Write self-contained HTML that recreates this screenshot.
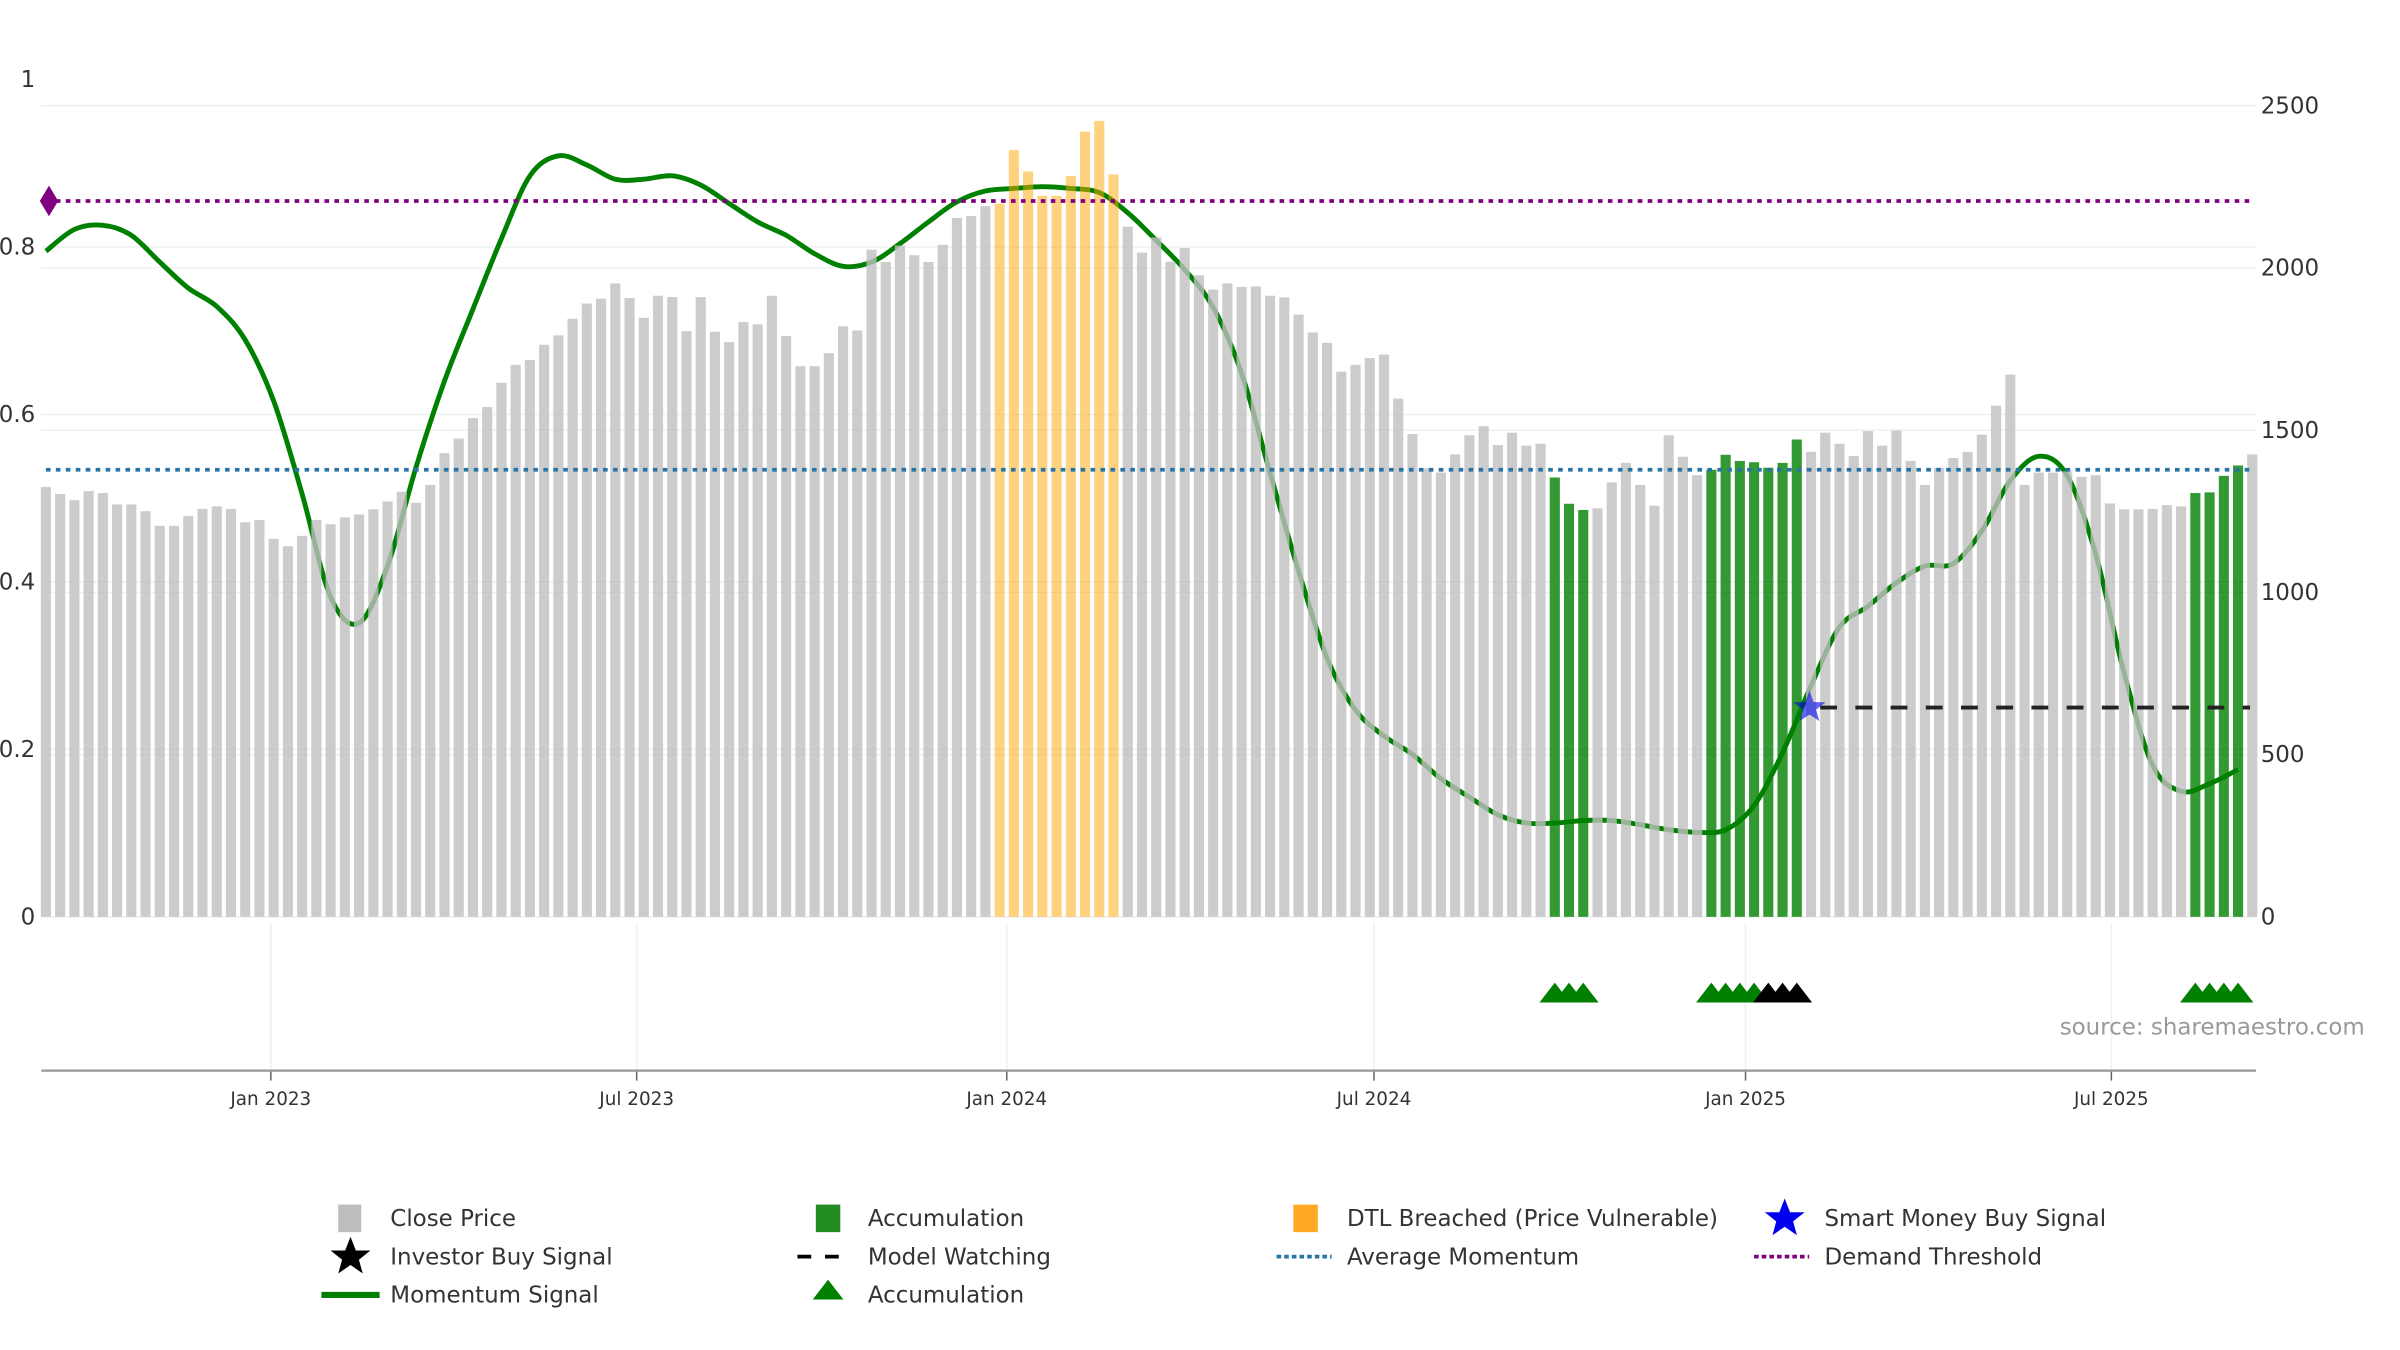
<!DOCTYPE html>
<html><head><meta charset="utf-8">
<style>
html,body{margin:0;padding:0;background:#fff;}
svg{display:block;font-family:"DejaVu Sans","Liberation Sans",sans-serif;}
</style></head>
<body>
<svg id="chart" width="2400" height="1350" viewBox="0 0 1568 882" xmlns="http://www.w3.org/2000/svg">
<g id="grid"></g>
<g id="lineLayer"></g>
<g id="bars"></g>
<g id="refs"></g>
<g id="axes"></g>
<g id="tri"></g>
<text x="1545" y="676" text-anchor="end" font-size="15" fill="#999">source: sharemaestro.com</text>
<g id="legend" font-size="15" fill="#333">
  <g><rect x="221" y="787" width="15" height="18" fill="#bdbdbd"/><text x="255" y="801">Close Price</text></g>
  <g><rect x="533" y="787" width="16" height="18" fill="#228b22"/><text x="567" y="801">Accumulation</text></g>
  <g><rect x="845" y="787" width="16" height="18" fill="#ffa826"/><text x="880" y="801">DTL Breached (Price Vulnerable)</text></g>
  <g><polygon points="1166,783 1169.5,792 1179,792 1171.5,798 1174,807 1166,801.5 1158,807 1160.5,798 1153,792 1162.5,792" fill="#0000ee"/><text x="1192" y="801">Smart Money Buy Signal</text></g>
  <g><polygon points="229,808 232.5,817 242,817 234.5,823 237,832 229,826.5 221,832 223.5,823 216,817 225.5,817" fill="#000"/><text x="255" y="826">Investor Buy Signal</text></g>
  <g><line x1="521" y1="821" x2="557" y2="821" stroke="#000" stroke-width="2.5" stroke-dasharray="9,9"/><text x="567" y="826">Model Watching</text></g>
  <g><line x1="834" y1="821" x2="870" y2="821" stroke="#2874a6" stroke-width="2.5" stroke-dasharray="3,2"/><text x="880" y="826">Average Momentum</text></g>
  <g><line x1="1146" y1="821" x2="1182" y2="821" stroke="#800080" stroke-width="2.5" stroke-dasharray="3,2"/><text x="1192" y="826">Demand Threshold</text></g>
  <g><line x1="210" y1="846" x2="248" y2="846" stroke="#008000" stroke-width="4"/><text x="255" y="851">Momentum Signal</text></g>
  <g><polygon points="541,836 551,849 531,849" fill="#008000"/><text x="567" y="851">Accumulation</text></g>
</g>
</svg>
<script>
const prices = [1325,1303,1284,1312,1306,1271,1271,1250,1205,1205,1235,1257,1265,1257,1216,1223,1165,1142,1174,1223,1210,1231,1240,1256,1280,1310,1276,1331,1429,1474,1537,1571,1646,1701,1716,1763,1792,1843,1890,1905,1952,1907,1846,1914,1910,1805,1910,1803,1771,1833,1826,1914,1790,1697,1697,1737,1820,1807,2056,2018,2069,2039,2018,2071,2154,2160,2190,
2198,2363,2297,2222,2222,2283,2420,2453,2288,
2127,2047,2094,2019,2061,
1977,1933,1952,1941,1943,1914,1909,1856,1801,1769,1680,1701,1722,1733,1597,1488,1382,1369,1425,1484,1512,1454,1492,1452,1458,1354,1273,1254,1259,1339,1399,1331,1267,1484,1418,1361,1378,1424,1405,1401,1384,1399,1471,1433,1492,1458,1420,1497,1452,1499,1405,1331,1384,1414,1433,1486,1575,1671,1331,1369,1369,1373,1356,1361,1274,1256,1256,1257,1269,1265,1306,1308,1359,1391,1425];
const breachedIdx = [67,68,69,70,71,72,73,74,75];
const accumIdx = [106,107,108,117,118,119,120,121,122,123,151,152,153,154];
const accumMarkerIdx = [106,107,108,117,118,119,120,151,152,153,154];
const investorMarkerIdx = [121,122,123];
// momentum sampled every 2 bars
const momentum = [0.795,0.821,0.826,0.814,0.782,0.751,0.729,0.689,0.616,0.505,0.382,0.351,0.419,0.537,0.640,0.726,0.810,0.885,0.909,0.898,0.881,0.881,0.885,0.874,0.852,0.830,0.814,0.792,0.777,0.782,0.804,0.830,0.854,0.867,0.870,0.872,0.870,0.865,0.841,0.808,0.773,0.728,0.649,0.530,0.413,0.309,0.247,0.216,0.194,0.165,0.143,0.122,0.112,0.112,0.115,0.115,0.110,0.104,0.101,0.104,0.133,0.196,0.276,0.346,0.371,0.399,0.419,0.422,0.461,0.521,0.550,0.527,0.433,0.291,0.181,0.150,0.159,0.176];
const avgMomentum = 0.534;
const demandThreshold = 0.855;
const smartMoneyIdx = 124;
const modelWatching = 0.25;
const leftTicks = [0,0.2,0.4,0.6,0.8,1];
const rightTicks = [0,500,1000,1500,2000,2500];
const dateLabels = ["Jan 2023","Jul 2023","Jan 2024","Jul 2024","Jan 2025","Jul 2025"];
const dateIdx = [15.8,41.5,67.5,93.3,119.4,145.1];

const NS="http://www.w3.org/2000/svg";
const X0=30, PITCH=9.3, BASE=599;
const xb = i => X0 + i*PITCH;
const yL = v => BASE - v*547;
const yR = v => BASE - v*0.212;
function mk(tag, attrs, parent){const e=document.createElementNS(NS,tag);for(const k in attrs)e.setAttribute(k,attrs[k]);parent.appendChild(e);return e;}
const grid=document.getElementById('grid'), bars=document.getElementById('bars'), lineLayer=document.getElementById('lineLayer'), refs=document.getElementById('refs'), axes=document.getElementById('axes'), tri=document.getElementById('tri');

leftTicks.forEach(t=>{
  if(t<1){
    const l=mk('line',{x1:27,x2:1474,y1:yL(t),y2:yL(t),stroke:'#edf0f3','stroke-width':1},grid);
    
    
  }
  const tx=mk('text',{x:23,y:yL(t)+5,'text-anchor':'end','font-size':15,fill:'#333'},axes);
  tx.textContent=String(t);
  
  
});
rightTicks.forEach(t=>{
  const l=mk('line',{x1:27,x2:1474,y1:yR(t),y2:yR(t),stroke:'#edf0f3','stroke-width':1},grid);
  
  
  const tx=mk('text',{x:1477,y:yR(t)+5,'font-size':15,fill:'#333'},axes);
  tx.textContent=String(t);
  
  
});
dateLabels.forEach((d,i)=>{
  const x=xb(dateIdx[i]);
  const g=mk('line',{x1:x,x2:x,y1:603,y2:699,stroke:'#eef0f3','stroke-width':1},grid);
  
  
  const tk=mk('line',{x1:x,x2:x,y1:699,y2:706,stroke:'#666','stroke-width':1},axes);
  
  
  const tx=mk('text',{x:x,y:722,'text-anchor':'middle','font-size':12,fill:'#333'},axes);
  tx.textContent=d;
  
  
});
const ax=mk('line',{x1:27,x2:1474,y1:699.5,y2:699.5,stroke:'#999','stroke-width':1.5},axes);



const pts=momentum.map((v,k)=>[xb(k*2),yL(v)]);
let d='M'+pts[0][0]+','+pts[0][1];
for(let i=0;i<pts.length-1;i++){
  const p0=pts[Math.max(0,i-1)],p1=pts[i],p2=pts[i+1],p3=pts[Math.min(pts.length-1,i+2)];
  const c1=[p1[0]+(p2[0]-p0[0])/6,p1[1]+(p2[1]-p0[1])/6],c2=[p2[0]-(p3[0]-p1[0])/6,p2[1]-(p3[1]-p1[1])/6];
  d+=` C${c1[0].toFixed(1)},${c1[1].toFixed(1)} ${c2[0].toFixed(1)},${c2[1].toFixed(1)} ${p2[0].toFixed(1)},${p2[1].toFixed(1)}`;
}
const ml=mk('path',{d:d,fill:'none',stroke:'#008000','stroke-width':3.2,'stroke-linejoin':'round'},lineLayer);



prices.forEach((p,i)=>{
  let fill='#bfbfbf',op=0.8,name='price-bar';
  if(breachedIdx.includes(i)){fill='#ffa500';op=0.5;name='dtl-breached-bar';}
  if(accumIdx.includes(i)){fill='#008000';op=0.8;name='accumulation-bar';}
  const r=mk('rect',{x:xb(i)-3.3,y:yR(p),width:6.6,height:BASE-yR(p),fill:fill,'fill-opacity':op},bars);
  
  
});

const dY=yL(demandThreshold);
const dl=mk('line',{x1:30,x2:1470,y1:dY,y2:dY,stroke:'#800080','stroke-width':2.5,'stroke-dasharray':'3,3.5'},refs);


const dm=mk('polygon',{points:`32,${dY-10} 38,${dY} 32,${dY+10} 26,${dY}`,fill:'#800080'},refs);


const al=mk('line',{x1:30,x2:1470,y1:yL(avgMomentum),y2:yL(avgMomentum),stroke:'#2874a6','stroke-width':2.5,'stroke-dasharray':'3,3.5'},refs);


const mw=mk('line',{x1:xb(smartMoneyIdx)+6,x2:1470,y1:yL(modelWatching),y2:yL(modelWatching),stroke:'#222','stroke-width':2.5,'stroke-dasharray':'11,12'},refs);


const sx=xb(smartMoneyIdx)-1, sy=yL(modelWatching);
let sp=[];for(let k=0;k<10;k++){const r=k%2?4.5:11;const a=-Math.PI/2+k*Math.PI/5;sp.push((sx+r*Math.cos(a)).toFixed(1)+','+(sy+r*Math.sin(a)).toFixed(1));}
const st=mk('polygon',{points:sp.join(' '),fill:'#0000ee','fill-opacity':0.6},refs);



function triangle(i,color,name){
  const x=xb(i);
  const t=mk('polygon',{points:`${x},642 ${x+10},655 ${x-10},655`,fill:color},tri);
  
  
}
accumMarkerIdx.forEach(i=>triangle(i,'#008000','accumulation-marker'));
investorMarkerIdx.forEach(i=>triangle(i,'#000','investor-buy-marker'));
</script>
</body></html>
